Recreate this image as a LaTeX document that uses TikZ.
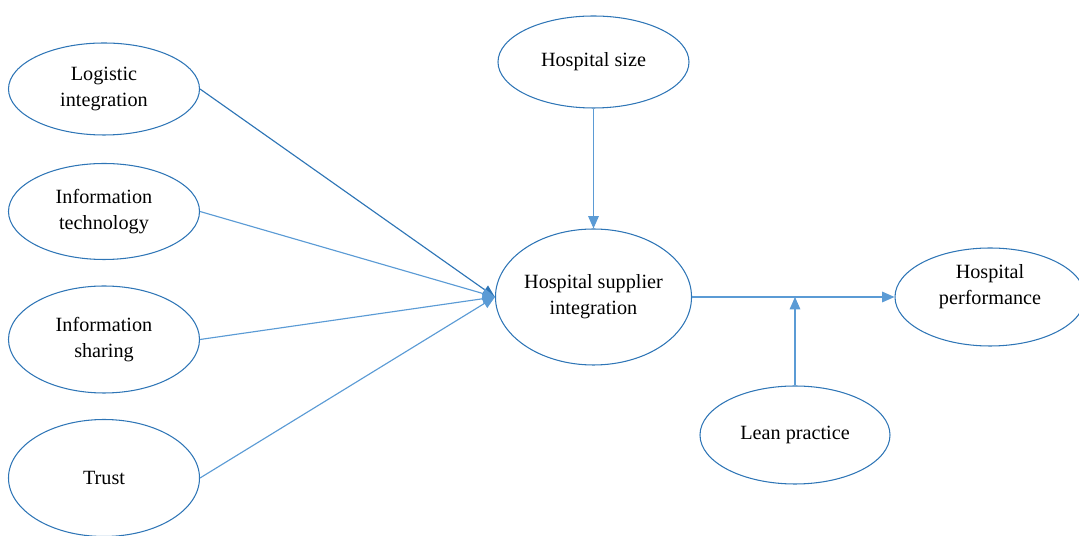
\documentclass[tikz,border=0pt]{standalone}
\usepackage{fontspec}
\setmainfont{Liberation Serif}
\usetikzlibrary{shapes.geometric,arrows.meta}
\definecolor{ovalblue}{RGB}{46,117,182}
\definecolor{linkblue}{RGB}{91,155,213}
\tikzset{
  oval/.style={ellipse,draw=ovalblue,line width=0.6pt,inner sep=0pt,
    minimum width=3.82cm,align=center,font=\fontsize{11.5}{14.6}\selectfont},
  link/.style={draw=linkblue,line width=0.65pt,-{Triangle[length=7pt,width=6pt]}}
}
\begin{document}
\begin{tikzpicture}
    \useasboundingbox (0,0) rectangle (21.58,-10.72);
    \node[oval,minimum height=1.84cm](logi) at (2.08,-1.78) {Logistic\\integration};
    \node[oval,minimum height=1.92cm](itech) at (2.08,-4.23) {Information\\technology};
    \node[oval,minimum height=2.14cm](share) at (2.08,-6.79) {Information\\sharing};
    \node[oval,minimum height=2.34cm](trust) at (2.08,-9.56) {Trust};
    \node[oval,minimum height=1.84cm](size) at (11.87,-1.24) {Hospital size};
    \node[oval,minimum width=3.78cm,minimum height=2.72cm](hsi) at (11.87,-5.94) {Hospital supplier\\integration};
    \node[oval,minimum width=3.80cm,minimum height=1.96cm](perf) at (19.8,-5.94)
      {\raisebox{3pt}[0pt][0pt]{\begin{tabular}{@{}c@{}}Hospital\\performance\end{tabular}}};
    \node[oval,minimum width=3.80cm,minimum height=1.96cm](lean) at (15.9,-8.7) {Lean practice};
    \draw [link,draw=ovalblue] (logi.east) -- (hsi.west);
    \draw [link] (itech.east) -- (hsi.west);
    \draw [link] (share.east) -- (hsi.west);
    \draw [link] (trust.east) -- (hsi.west);
    \draw [link] (size.south) -- (hsi.north);
    \draw [link] (hsi.east) -- (perf.west);
    \draw [link] (lean.north) -- (lean.north |- hsi.east);
\end{tikzpicture}
\end{document}
